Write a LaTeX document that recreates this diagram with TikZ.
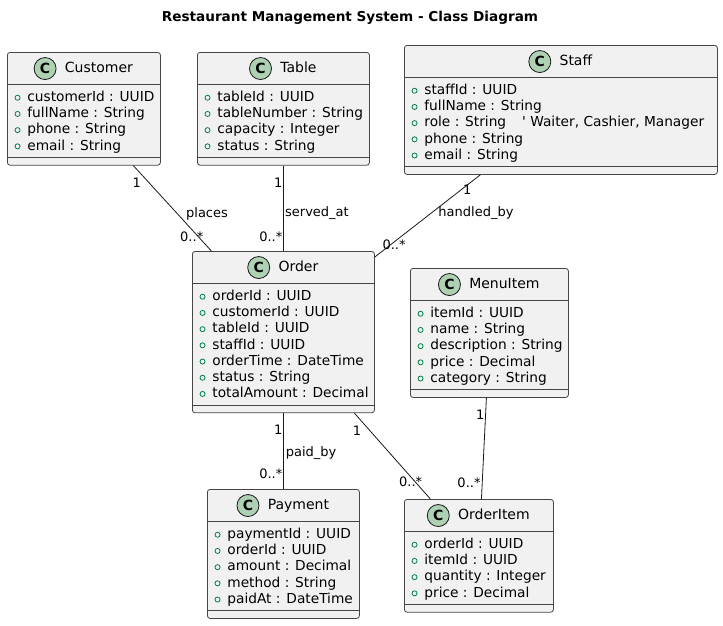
\documentclass[tikz,border=0pt]{standalone}
\usepackage{fontspec}
\setmainfont{DejaVu Sans}
\usetikzlibrary{positioning}
\definecolor{boxfill}{HTML}{F1F1F1}
\definecolor{boxline}{HTML}{181818}
\definecolor{spotfill}{HTML}{ADD1B2}
\definecolor{pubgreen}{HTML}{038048}
\tikzset{
diagram/.style={
    x=0.75pt,
    y=-0.75pt,
    line width=0.6pt
},
classbox/.style={
    draw=boxline!80,
    fill=boxfill,
    rounded corners=2pt,
    anchor=north west,
    inner sep=0pt
},
sepline/.style={
    draw=boxline!80
},
classname/.style={
    anchor=base,
    inner sep=0pt,
    text height=7.5pt,
    text depth=1.5pt,
    font=\fontsize{10.5}{12.6}\selectfont
},
spot/.style={
    circle,
    draw=boxline,
    fill=spotfill,
    minimum size=16.5pt,
    inner sep=0pt,
    font=\fontsize{10.5}{12.6}\selectfont\bfseries
},
field/.style={
    anchor=base west,
    inner sep=0pt,
    font=\fontsize{10.3}{12.4}\selectfont
},
public/.style={
    draw=pubgreen
},
assoc/.style={
    draw=boxline
},
mult/.style={
    inner sep=0.5pt,
    font=\fontsize{9.75}{11.7}\selectfont
},
heading/.style={
    font=\fontsize{10.2}{12.2}\selectfont\bfseries
}}

% #1 name, #2 left, #3 top, #4 width, #5 number of fields, #6 title, #7 fields
\newcommand{\umlclass}[7]{%
  \node[classbox, minimum width=#4*0.75pt, minimum height={(48+16.2*#5)*0.75pt}] (#1) at (#2,#3) {};
  \draw[sepline] ([yshift=-24pt]#1.north west) -- ([yshift=-24pt]#1.north east);
  \draw[sepline] ([yshift=6pt]#1.south west) -- ([yshift=6pt]#1.south east);
  \node[classname] (#1-name) at ([xshift=11.25pt, yshift=-15.4pt]#1.north) {#6};
  \node[spot, left=6pt of #1-name] (#1-spot) {C};
  \foreach \field [count=\i] in {#7} {
    \node[field] (#1-f\i) at ([xshift=15pt, yshift={-(37.1+12.15*(\i-1))*1pt}]#1.north west) {\field};
    \draw[public] ([xshift=-7.1pt, yshift=2.8pt]#1-f\i.base west) circle (1.9pt);
  }
}

\begin{document}
\begin{tikzpicture}[diagram]
\useasboundingbox (0,0) rectangle (723,625);

\node[heading] (title) at (350,18) {Restaurant Management System - Class Diagram};

\umlclass{customer}{7}{52}{153}{4}{Customer}{customerId : UUID, fullName : String, phone : String, email : String}
\umlclass{table}{197}{52}{172}{4}{Table}{tableId : UUID, tableNumber : String, capacity : Integer, status : String}
\umlclass{staff}{404}{45}{313}{5}{Staff}{staffId : UUID, fullName : String, {role : String\hspace{12pt}\textquotesingle{} Waiter, Cashier, Manager}, phone : String, email : String}
\umlclass{order}{192}{251}{182}{7}{Order}{orderId : UUID, customerId : UUID, tableId : UUID, staffId : UUID, orderTime : DateTime, status : String, totalAmount : Decimal}
\umlclass{menuitem}{410}{268}{158}{5}{MenuItem}{itemId : UUID, name : String, description : String, price : Decimal, category : String}
\umlclass{payment}{207}{489}{152}{5}{Payment}{paymentId : UUID, orderId : UUID, amount : Decimal, method : String, paidAt : DateTime}
\umlclass{orderitem}{404}{499}{149}{4}{OrderItem}{orderId : UUID, itemId : UUID, quantity : Integer, price : Decimal}

\draw[assoc] ([xshift=37.1pt]customer.south) -- ([xshift=-54pt]order.north)
    node[mult, pos=0.2, left=5.3pt] {1}
    node[mult, pos=0.56, right=6pt] {places}
    node[mult, pos=0.83, xshift=-4.8pt] {0..*};
\draw[assoc] (table.south) -- (order.north)
    node[mult, pos=0.2, left=0pt] {1}
    node[mult, pos=0.56, right=0.5pt] {served\_at}
    node[mult, pos=0.83, left=0pt] {0..*};
\draw[assoc] ([xshift=-60.4pt]staff.south) -- ([yshift=-4.5pt]order.north east)
    node[mult, pos=0.18, right=0.5pt] {1}
    node[mult, pos=0.47, right=5pt] {handled\_by}
    node[mult, pos=0.855, xshift=3pt] {0..*};
\draw[assoc] (order.south) -- (payment.north)
    node[mult, pos=0.22, left=0pt] {1}
    node[mult, pos=0.52, right=1pt] {paid\_by}
    node[mult, pos=0.8, left=0pt] {0..*};
\draw[assoc] ([xshift=53.3pt]order.south) -- ([xshift=-36.4pt]orderitem.north)
    node[mult, pos=0.2, left=5.5pt] {1}
    node[mult, pos=0.8, xshift=-3.4pt] {0..*};
\draw[assoc] ([xshift=-2.25pt]menuitem.south) -- ([xshift=1.9pt]orderitem.north)
    node[mult, pos=0.17, left=0pt] {1}
    node[mult, pos=0.835, left=0.5pt] {0..*};
\end{tikzpicture}
\end{document}
